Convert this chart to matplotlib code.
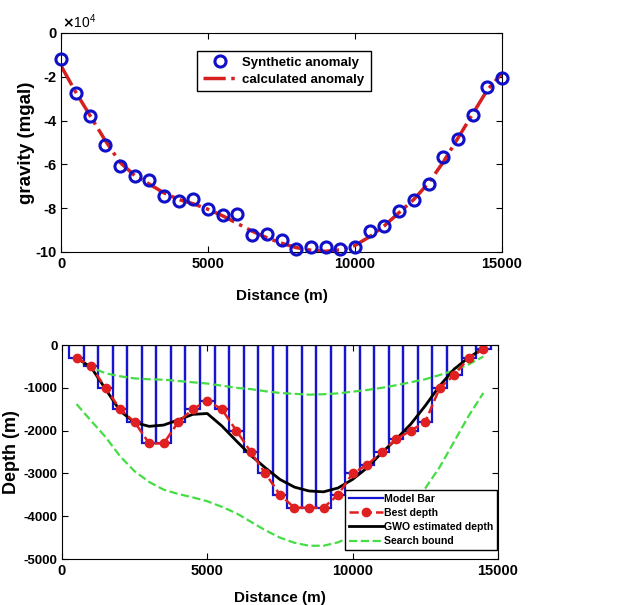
import matplotlib
matplotlib.use("Agg")
import matplotlib.pyplot as plt
from matplotlib.lines import Line2D
import numpy as np

plt.rcParams["font.family"] = ["Liberation Sans", "DejaVu Sans"]
plt.rcParams["font.weight"] = "bold"
plt.rcParams["axes.unicode_minus"] = False

# top panel: gravity anomaly (units of 1e4 mgal)
distance = np.arange(0, 15001, 500)
synthetic = [-1.18, -2.76, -3.80, -5.10, -6.08, -6.52, -6.73, -7.44, -7.66, -7.60,
             -8.02, -8.32, -8.27, -9.24, -9.16, -9.44, -9.85, -9.79, -9.79, -9.86,
             -9.77, -9.04, -8.81, -8.12, -7.63, -6.90, -5.66, -4.85, -3.76, -2.47, -2.05]
calculated = [-1.50, -2.70, -3.80, -4.90, -5.90, -6.50, -6.90, -7.30, -7.60, -7.80,
              -8.05, -8.35, -8.70, -9.05, -9.35, -9.60, -9.80, -9.92, -9.97, -9.90,
              -9.70, -9.30, -8.80, -8.20, -7.60, -6.85, -5.90, -4.80, -3.70, -2.60, -1.85]

# bottom panel: depth model
centers = np.arange(500, 14501, 500)
best_depth = [-300, -500, -1000, -1500, -1800, -2300, -2300, -1800, -1500, -1300,
              -1500, -2000, -2500, -3000, -3500, -3800, -3800, -3800, -3500, -3000,
              -2800, -2500, -2200, -2000, -1800, -1000, -700, -300, -100]
gwo_depth = [-300, -520, -1030, -1540, -1810, -1900, -1870, -1750, -1620, -1600,
             -1890, -2240, -2580, -2870, -3140, -3320, -3410, -3430, -3340, -3140,
             -2870, -2520, -2200, -1850, -1420, -950, -560, -290, -80]
upper_bound = [-290, -520, -660, -730, -780, -800, -810, -840, -870, -900,
               -950, -1000, -1030, -1080, -1120, -1140, -1160, -1150, -1130, -1090,
               -1050, -1000, -940, -870, -800, -700, -590, -450, -270]
lower_bound = [-1380, -1770, -2150, -2600, -2950, -3200, -3380, -3480, -3560, -3650,
               -3780, -3930, -4130, -4330, -4500, -4620, -4690, -4690, -4610, -4460,
               -4280, -4080, -3860, -3620, -3350, -2850, -2250, -1650, -1120]

fig = plt.figure(figsize=(6.41, 6.05), dpi=100)
ax1 = fig.add_axes([0.0952, 0.5835, 0.688, 0.362])
ax2 = fig.add_axes([0.0967, 0.076, 0.680, 0.3537])

ax1.plot(distance, synthetic, "o", color="#1010c8", mfc="none", mew=2.2, ms=8,
         label="Synthetic anomaly", clip_on=False, zorder=3)
ax1.plot(distance, calculated, "-.", color="#d62020", lw=2.5, label="calculated anomaly")
ax1.set_xlim(0, 15000)
ax1.set_ylim(-10, 0)
ax1.set_xticks([0, 5000, 10000, 15000])
ax1.set_yticks([0, -2, -4, -6, -8, -10])
ax1.text(0.003, 1.01, r"$\times\mathregular{10^4}$", transform=ax1.transAxes, fontsize=10,
         ha="left", va="bottom", fontweight="normal")
ax1.set_xlabel("Distance (m)", fontsize=11, fontweight="bold")
ax1.set_ylabel("gravity (mgal)", fontsize=13.5, fontweight="bold")
ax1.xaxis.set_label_coords(0.5, -0.169)
ax1.yaxis.set_label_coords(-0.059, 0.5)
ax1.legend(loc="upper center", bbox_to_anchor=(0.505, 0.95), fontsize=9.5,
           fancybox=False, edgecolor="black", framealpha=1, borderpad=0.45,
           handlelength=2.6, handletextpad=0.4, labelspacing=0.35)

ax2.bar(centers, best_depth, width=500, fill=False, edgecolor="#1515d0", lw=1.6)
ax2.plot(centers, upper_bound, "--", color="#44dd44", lw=1.6)
ax2.plot(centers, lower_bound, "--", color="#44dd44", lw=1.6)
ax2.plot(centers, gwo_depth, "-", color="black", lw=2)
ax2.plot(centers, best_depth, "--o", color="#e02020", lw=1.8, ms=6)
ax2.set_xlim(0, 15000)
ax2.set_ylim(-5000, 0)
ax2.set_xticks([0, 5000, 10000, 15000])
ax2.set_yticks([0, -1000, -2000, -3000, -4000, -5000])
ax2.set_xlabel("Distance (m)", fontsize=11, fontweight="bold")
ax2.set_ylabel("Depth (m)", fontsize=13, fontweight="bold")
ax2.xaxis.set_label_coords(0.5, -0.15)
ax2.yaxis.set_label_coords(-0.096, 0.5)
handles = [
    Line2D([], [], color="#1515d0", lw=1.6),
    Line2D([], [], color="#e02020", ls="--", marker="o", lw=1.8, ms=6),
    Line2D([], [], color="black", lw=2),
    Line2D([], [], color="#44dd44", ls="--", lw=1.6),
]
ax2.legend(handles, ["Model Bar", "Best depth", "GWO estimated depth", "Search bound"],
           loc="lower right", bbox_to_anchor=(1.0, 0.04), fontsize=7.6,
           fancybox=False, edgecolor="black", framealpha=1, borderpad=0.35,
           handlelength=3.2, handletextpad=0.15, labelspacing=0.4, borderaxespad=0.05)

for ax in (ax1, ax2):
    ax.tick_params(direction="in", top=True, right=True, labelsize=10.5, length=4)
    for lab in ax.get_xticklabels() + ax.get_yticklabels():
        lab.set_fontweight("bold")
ax2.tick_params(axis="y", labelsize=9.5, pad=3)

fig.savefig("out.png", dpi=100)
